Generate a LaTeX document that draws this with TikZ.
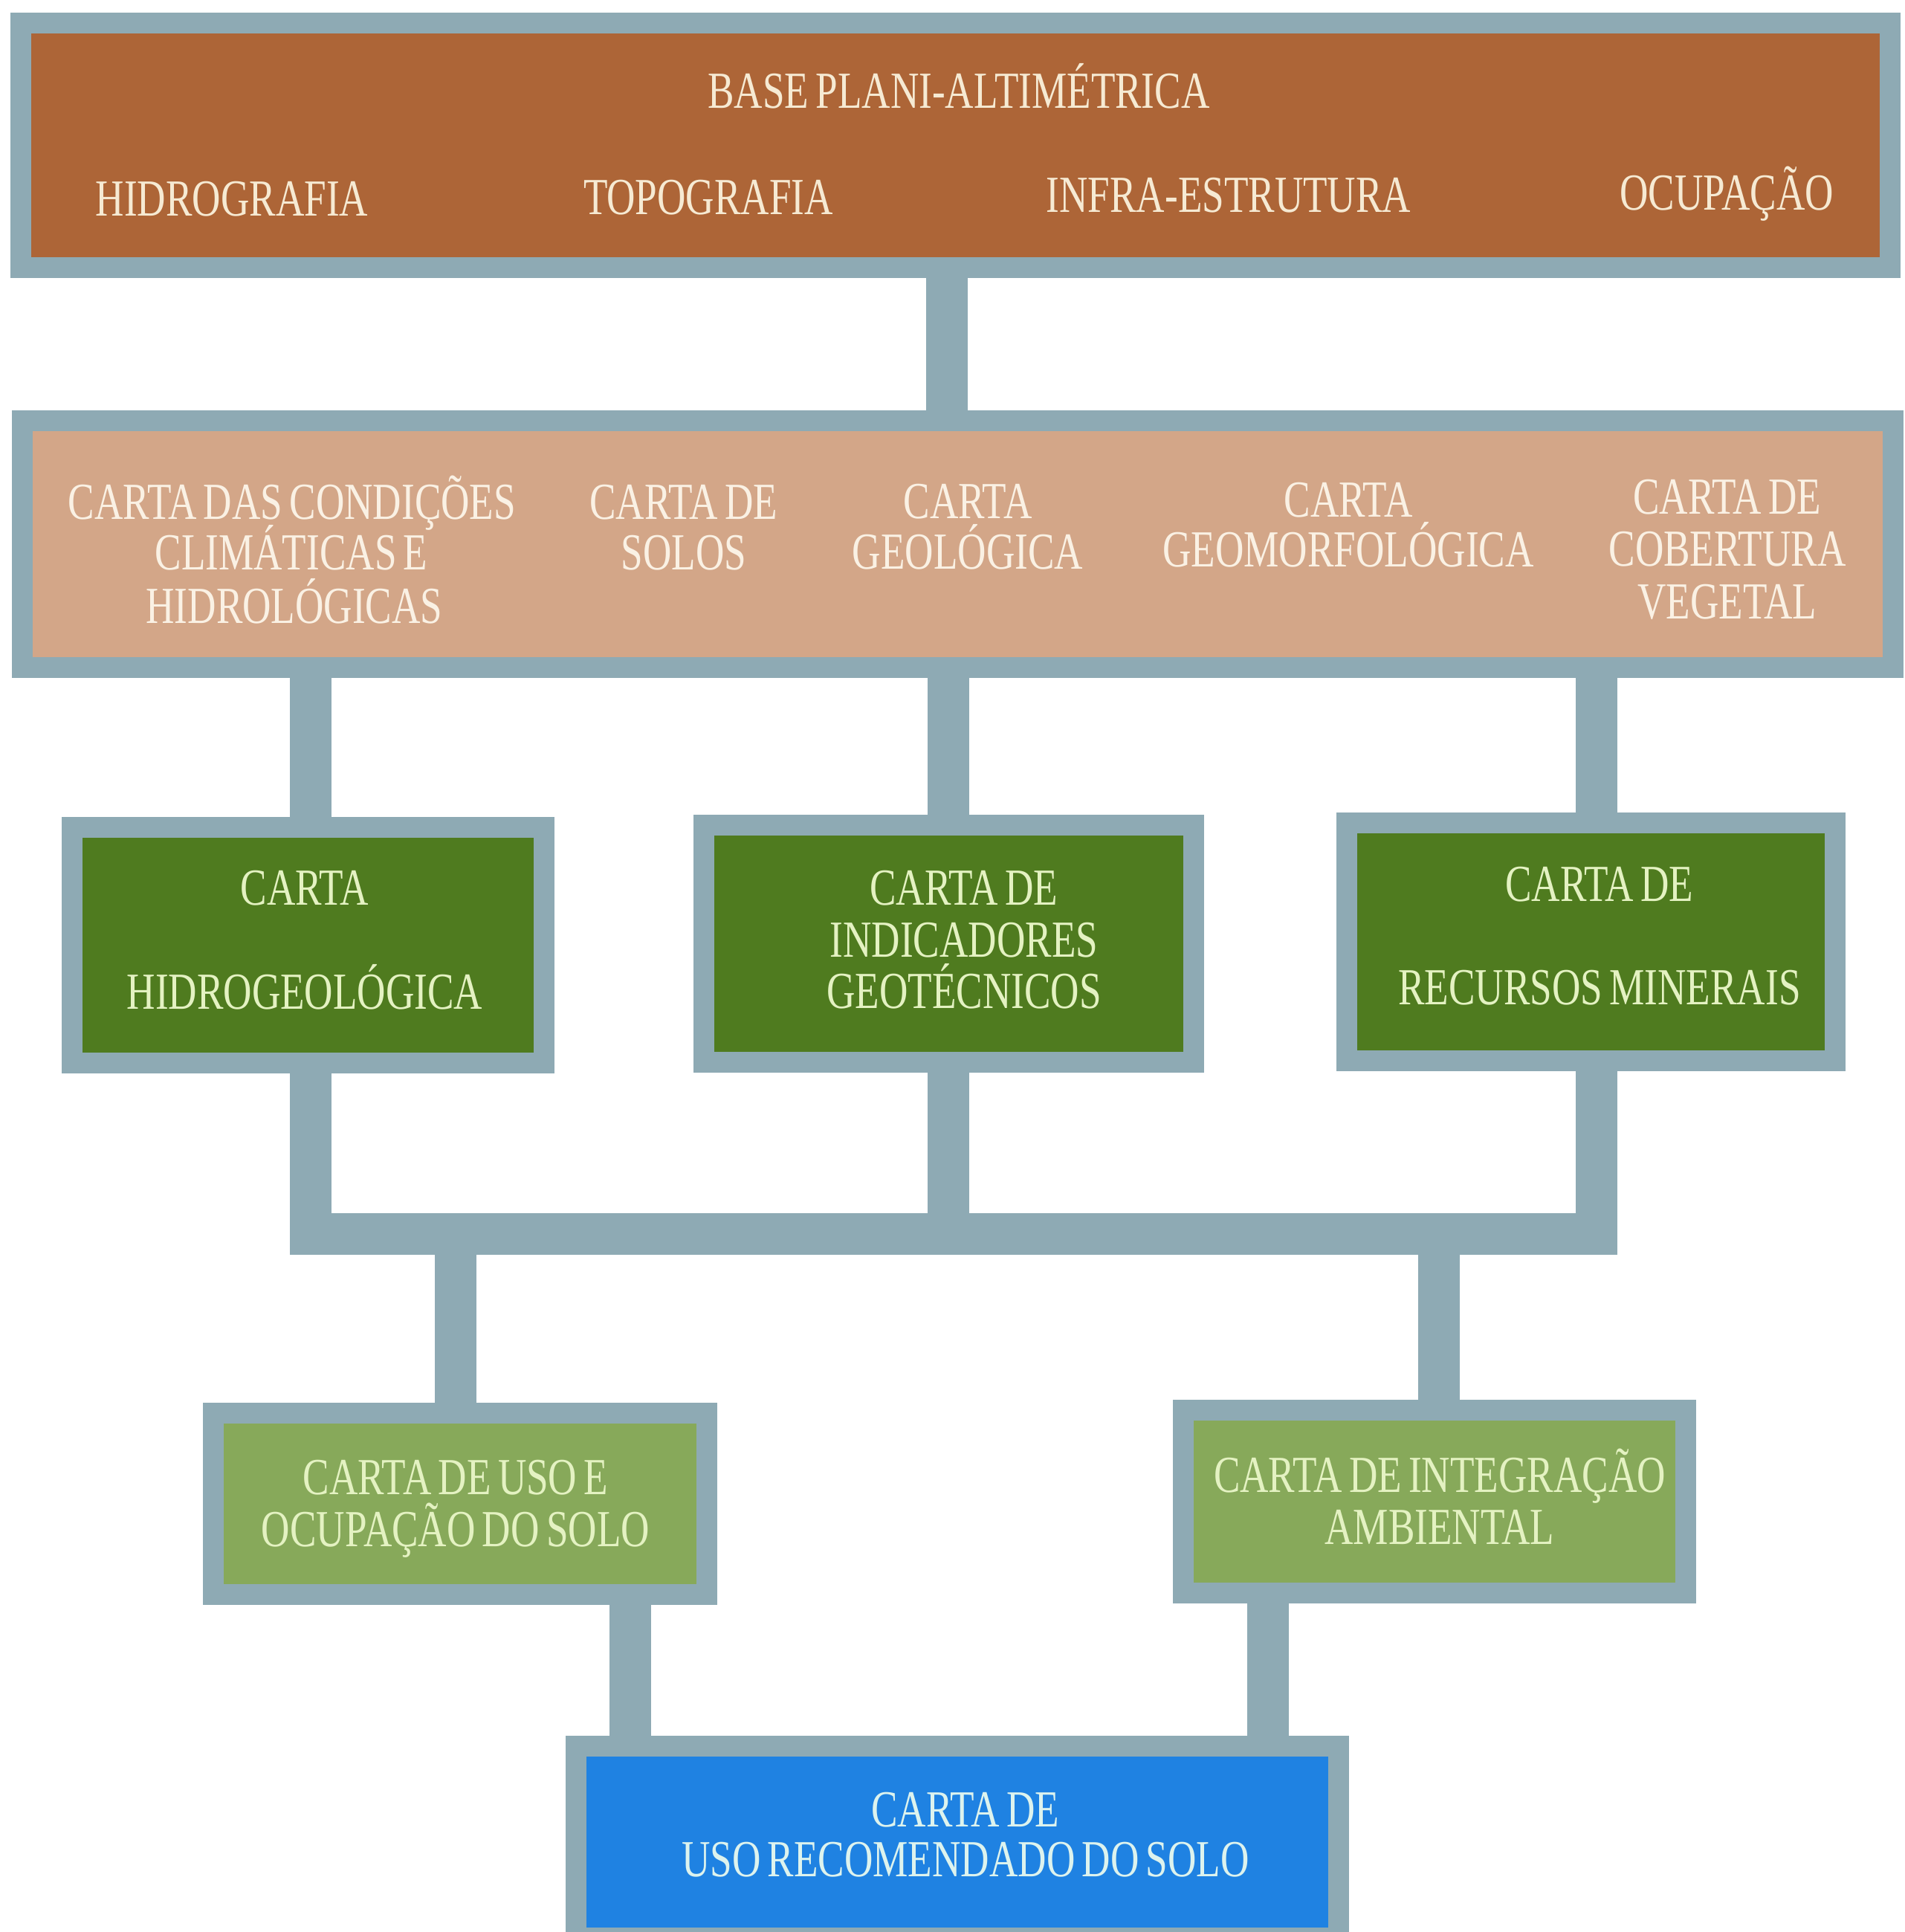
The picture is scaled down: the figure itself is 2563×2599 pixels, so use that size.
\documentclass[tikz,border=0pt]{standalone}
\usepackage{fontspec}
\setmainfont{Liberation Serif}[FakeStretch=0.76, WordSpace=0.7]
\usetikzlibrary{backgrounds}
\definecolor{framec}{HTML}{8EAAB4}
\definecolor{orangec}{HTML}{AD6537}
\definecolor{tanc}{HTML}{D3A688}
\definecolor{dgreen}{HTML}{4F7B1F}
\definecolor{lgreen}{HTML}{87A95A}
\definecolor{bluec}{HTML}{1F82E2}
\definecolor{tcream}{HTML}{F6EAD3}
\definecolor{twhite}{HTML}{FAF1E4}
\definecolor{tgreen}{HTML}{E4F2C2}
\definecolor{tblue}{HTML}{DDF3EE}
\tikzset{
  box/.style={rectangle, draw=framec, line width=0.28cm, inner sep=0pt, outer sep=0pt},
  conn/.style={draw=framec, line width=0.56cm, line join=miter},
  txt/.style={anchor=base, inner sep=0pt, outer sep=0pt, font=\fontsize{19.9}{19.9}\selectfont}
}
\begin{document}
\begin{tikzpicture}[x=0.01cm, y=-0.01cm]
\useasboundingbox (0,0) rectangle (2563,2599);
\begin{scope}[on background layer]
  \fill[white] (0,0) rectangle (2563,2599);
\end{scope}

% boxes
\node[box, fill=orangec, minimum width=25.13cm, minimum height=3.29cm] (base) at (1285.5,195.5) {};
\node[box, fill=tanc, minimum width=25.15cm, minimum height=3.32cm] (cartas) at (1288.5,732) {};
\node[box, fill=dgreen, minimum width=6.35cm, minimum height=3.17cm] (hidro) at (414.5,1271.5) {};
\node[box, fill=dgreen, minimum width=6.59cm, minimum height=3.19cm] (geot) at (1276.5,1269.5) {};
\node[box, fill=dgreen, minimum width=6.57cm, minimum height=3.20cm] (miner) at (2140.5,1267) {};
\node[box, fill=lgreen, minimum width=6.64cm, minimum height=2.44cm] (uso) at (619,2023) {};
\node[box, fill=lgreen, minimum width=6.76cm, minimum height=2.46cm] (integ) at (1930,2020) {};
\node[box, fill=bluec, minimum width=10.26cm, minimum height=2.58cm] (recom) at (1288,2478) {};

% connector positions
\coordinate (c1) at (1274,0);
\coordinate (cL) at (418,0);
\coordinate (cM) at (1276,0);
\coordinate (cR) at (2148,0);
\coordinate (hb) at (0,1660);
\coordinate (cU) at (613,0);
\coordinate (cI) at (1936,0);
\coordinate (cUb) at (848,0);
\coordinate (cIb) at (1706,0);

\begin{scope}[on background layer]
  \draw[conn] (c1 |- base.center) -- (c1 |- cartas.center);
  \draw[conn] (cL |- cartas.center) -- (cL |- hidro.center);
  \draw[conn] (cM |- cartas.center) -- (cM |- geot.center);
  \draw[conn] (cR |- cartas.center) -- (cR |- miner.center);
  \draw[conn] (cL |- hidro.center) -- (cL |- hb) -- (cR |- hb) -- (cR |- miner.center);
  \draw[conn] (cM |- geot.center) -- (cM |- hb);
  \draw[conn] (cU |- hb) -- (cU |- uso.center);
  \draw[conn] (cI |- hb) -- (cI |- integ.center);
  \draw[conn] (cUb |- uso.center) -- (cUb |- recom.center);
  \draw[conn] (cIb |- integ.center) -- (cIb |- recom.center);
\end{scope}

% top box texts
\begin{scope}[every node/.append style={txt, text=tcream}]
  \node (t1) at (1290,145) {BASE PLANI-ALTIMÉTRICA};
  \node (t2) at (312,290) {HIDROGRAFIA};
  \node (t3) at (953,288) {TOPOGRAFIA};
  \node (t4) at (1653,285) {INFRA-ESTRUTURA};
  \node (t5) at (2323,282) {OCUPAÇÃO};
\end{scope}

% second box texts
\begin{scope}[every node/.append style={txt, text=twhite}]
  \node (t6) at (393,698) {CARTA DAS CONDIÇÕES};
  \node (t7) at (392,766) {CLIMÁTICAS E};
  \node (t8) at (396,838) {HIDROLÓGICAS};
  \node (t9) at (920,698) {CARTA DE};
  \node (t10) at (920,766) {SOLOS};
  \node (t11) at (1302,697) {CARTA};
  \node (t12) at (1302,765) {GEOLÓGICA};
  \node (t13) at (1814,695) {CARTA};
  \node (t14) at (1814,762) {GEOMORFOLÓGICA};
  \node (t15) at (2324,691) {CARTA DE};
  \node (t16) at (2324,761) {COBERTURA};
  \node (t17) at (2324,832) {VEGETAL};
\end{scope}

% green row texts
\begin{scope}[every node/.append style={txt, text=tgreen}]
  \node (t18) at (410,1217) {CARTA};
  \node (t19) at (410,1357) {HIDROGEOLÓGICA};
  \node (t20) at (1297,1217) {CARTA DE};
  \node (t21) at (1297,1287) {INDICADORES};
  \node (t22) at (1297,1356) {GEOTÉCNICOS};
  \node (t23) at (2152,1212) {CARTA DE};
  \node (t24) at (2152,1351) {RECURSOS MINERAIS};
  \node (t25) at (613,2010) {CARTA DE USO E};
  \node (t26) at (613,2080) {OCUPAÇÃO DO SOLO};
  \node (t27) at (1937,2007) {CARTA DE INTEGRAÇÃO};
  \node (t28) at (1937,2077) {AMBIENTAL};
\end{scope}

% blue box texts
\begin{scope}[every node/.append style={txt, text=tblue}]
  \node (t29) at (1299,2457) {CARTA DE};
  \node (t30) at (1299,2524) {USO RECOMENDADO DO SOLO};
\end{scope}
\end{tikzpicture}
\end{document}
